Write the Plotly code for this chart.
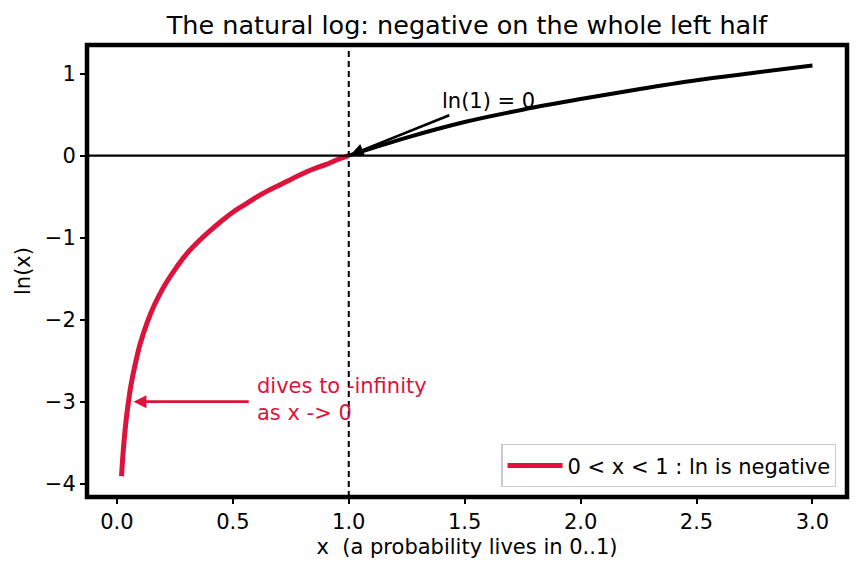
import plotly.graph_objects as go

# Data
x_neg = [0.02, 0.025, 0.03, 0.04, 0.05, 0.06, 0.08, 0.10, 0.13, 0.16, 0.20, 0.25, 0.30, 0.35, 0.40, 0.45, 0.50,
         0.55, 0.60, 0.65, 0.70, 0.75, 0.80, 0.85, 0.90, 0.95, 1.00]
y_neg = [-3.91, -3.69, -3.51, -3.22, -3.00, -2.81, -2.53, -2.30, -2.04, -1.83, -1.61, -1.39, -1.20, -1.05, -0.92,
         -0.80, -0.69, -0.60, -0.51, -0.43, -0.36, -0.29, -0.22, -0.16, -0.11, -0.05, 0.00]
x_pos = [1.00, 1.25, 1.50, 1.75, 2.00, 2.25, 2.50, 2.75, 3.00]
y_pos = [0.00, 0.22, 0.41, 0.56, 0.69, 0.81, 0.92, 1.01, 1.10]

x_ticks = [0.0, 0.5, 1.0, 1.5, 2.0, 2.5, 3.0]
y_ticks = [-4, -3, -2, -1, 0, 1]

CRIMSON = "#DC143C"
FONT = "DejaVu Sans"
FS = 21

fig = go.Figure()
fig.add_trace(go.Scatter(x=x_pos, y=y_pos, mode="lines", line=dict(color="black", width=4, shape="spline"),
                         showlegend=False, hoverinfo="skip"))
fig.add_trace(go.Scatter(x=x_neg, y=y_neg, mode="lines", line=dict(color=CRIMSON, width=5, shape="spline"),
                         name="0 &lt; x &lt; 1 : ln is negative"))

fig.add_hline(y=0, line=dict(color="black", width=2.2))
fig.add_vline(x=1, line=dict(color="black", width=2, dash="6px,4px"))

# frame
fig.add_shape(type="rect", xref="paper", yref="paper", x0=0, x1=1, y0=0, y1=1,
              line=dict(color="black", width=4.5), layer="above")

# annotations
fig.add_annotation(x=1.0, y=0.0, ax=1.44, ay=0.50, xref="x", yref="y", axref="x", ayref="y",
                   text="", showarrow=True, arrowhead=2, arrowsize=1, arrowwidth=2.6,
                   arrowcolor="black", standoff=2)
fig.add_annotation(x=1.395, y=0.67, xref="x", yref="y", text="ln(1) = 0", showarrow=False,
                   xanchor="left", yanchor="middle", font=dict(family=FONT, size=FS, color="black"))
fig.add_annotation(x=0.05, y=-3.0, ax=0.575, ay=-3.0, xref="x", yref="y", axref="x", ayref="y",
                   text="", showarrow=True, arrowhead=2, arrowsize=1, arrowwidth=2.6,
                   arrowcolor=CRIMSON, standoff=5)
fig.add_annotation(x=0.595, y=-2.98, xref="x", yref="y", text="dives to -infinity<br>as x -&gt; 0",
                   showarrow=False, xanchor="left", yanchor="middle", align="left",
                   font=dict(family=FONT, size=FS, color=CRIMSON))

fig.update_layout(
    width=860, height=573,
    margin=dict(l=87, r=13, t=45, b=76),
    paper_bgcolor="white", plot_bgcolor="white",
    font=dict(family=FONT, size=FS, color="black"),
    title=dict(text="The natural log: negative on the whole left half", x=0.5, xref="paper",
               y=1 - 25 / 573, yref="container", xanchor="center", yanchor="middle",
               font=dict(family=FONT, size=25.5, color="black")),
    legend=dict(x=0.986, y=0.022, xanchor="right", yanchor="bottom", bgcolor="rgba(255,255,255,0.85)",
                bordercolor="#cccccc", borderwidth=1.2, font=dict(family=FONT, size=FS), itemwidth=55),
    showlegend=True,
)
fig.update_xaxes(range=[-0.129, 3.149], tickvals=x_ticks, ticktext=[f"{v:.1f}" for v in x_ticks],
                 showgrid=False, zeroline=False, ticks="outside", ticklen=6, tickwidth=1.5, tickcolor="black",
                 title=dict(text="x\u00a0 (a probability lives in 0..1)", font=dict(family=FONT, size=FS), standoff=6),
                 tickfont=dict(family=FONT, size=FS), showline=False)
fig.update_yaxes(range=[-4.163, 1.349], tickvals=y_ticks, ticktext=[("\u2212" if v < 0 else "") + str(abs(v)) for v in y_ticks],
                 showgrid=False, zeroline=False, ticks="outside", ticklen=6, tickwidth=1.5, tickcolor="black",
                 title=dict(text="ln(x)", font=dict(family=FONT, size=FS), standoff=8),
                 tickfont=dict(family=FONT, size=FS), showline=False)

fig.write_html("out.html")
